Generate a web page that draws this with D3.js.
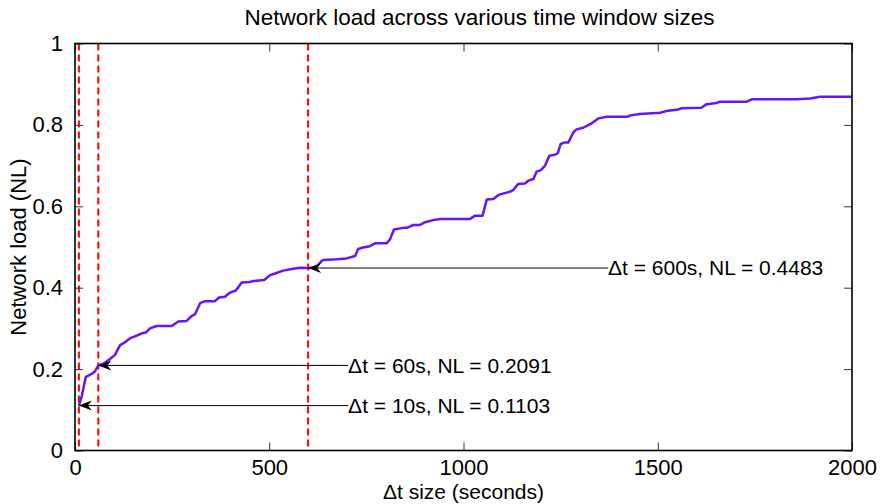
<!DOCTYPE html>
<html>
<head>
<meta charset="utf-8">
<script src="https://cdn.jsdelivr.net/npm/d3@7"></script>
<style>
  html, body { margin: 0; padding: 0; background: #fff; }
  svg { display: block; }
  text { font-family: "Liberation Sans", Arial, Helvetica, sans-serif; fill: #000; }
</style>
</head>
<body>
<svg id="chart" width="880" height="504"></svg>
<script>
// ---- data ----
const windowSizes = [10, 17, 28, 43, 51, 60, 73, 90, 103, 116, 127, 142, 159, 172, 183, 193, 210, 249, 266, 287, 300, 309, 322, 335, 360, 371, 386, 399, 414, 429, 450, 457, 487, 502, 515, 536, 558, 579, 600, 620, 635, 639, 674, 699, 721, 729, 738, 759, 772, 802, 811, 821, 845, 854, 871, 888, 901, 922, 940, 1017, 1030, 1049, 1060, 1077, 1090, 1120, 1128, 1141, 1158, 1167, 1180, 1188, 1199, 1210, 1221, 1236, 1243, 1250, 1261, 1270, 1283, 1291, 1308, 1330, 1347, 1369, 1420, 1433, 1454, 1506, 1527, 1549, 1562, 1612, 1626, 1647, 1660, 1729, 1742, 1858, 1892, 1918, 2000];
const networkLoad = [0.1103, 0.132, 0.181, 0.188, 0.194, 0.2091, 0.213, 0.225, 0.235, 0.259, 0.265, 0.276, 0.282, 0.288, 0.290, 0.300, 0.306, 0.306, 0.317, 0.318, 0.330, 0.335, 0.362, 0.367, 0.367, 0.376, 0.378, 0.388, 0.393, 0.413, 0.414, 0.416, 0.419, 0.431, 0.435, 0.442, 0.446, 0.449, 0.4483, 0.450, 0.466, 0.468, 0.470, 0.472, 0.478, 0.495, 0.498, 0.502, 0.509, 0.509, 0.519, 0.543, 0.547, 0.547, 0.554, 0.554, 0.561, 0.566, 0.569, 0.569, 0.577, 0.577, 0.617, 0.618, 0.628, 0.636, 0.640, 0.655, 0.656, 0.663, 0.667, 0.685, 0.689, 0.700, 0.724, 0.727, 0.731, 0.753, 0.757, 0.757, 0.782, 0.789, 0.793, 0.804, 0.816, 0.820, 0.820, 0.824, 0.827, 0.830, 0.835, 0.837, 0.841, 0.842, 0.851, 0.853, 0.857, 0.857, 0.863, 0.863, 0.865, 0.869, 0.869];

const markerWindows = [10, 60, 600];
const markerLoads = [0.1103, 0.2091, 0.4483];
const markerLabels = ["\u0394t = 10s, NL = 0.1103", "\u0394t = 60s, NL = 0.2091", "\u0394t = 600s, NL = 0.4483"];
const markerTextX = [703, 703, 1372];

const xTicks = [0, 500, 1000, 1500, 2000];
const yTicks = [0, 0.2, 0.4, 0.6, 0.8, 1];
const yTickLabels = ["0", "0.2", "0.4", "0.6", "0.8", "1"];

const titleText = "Network load across various time window sizes";
const xLabelText = "\u0394t size (seconds)";
const yLabelText = "Network load (NL)";

// ---- layout ----
const L = 75, R = 852, T = 43.5, B = 450.5;
const svg = d3.select("#chart");
const x = d3.scaleLinear().domain([0, 2000]).range([L, R]);
const y = d3.scaleLinear().domain([0, 1]).range([B, T]);
const FS = 21;
const tickLen = 8;

// red dashed lines
svg.append("g").selectAll("line").data(markerWindows).join("line")
  .attr("x1", d => x(d)).attr("x2", d => x(d))
  .attr("y1", T).attr("y2", B)
  .attr("stroke", "#ff0000").attr("stroke-width", 2)
  .attr("stroke-dasharray", "7,4");

// curve
const line = d3.line().x((d, i) => x(windowSizes[i])).y(d => y(d));
svg.append("path").datum(networkLoad)
  .attr("d", line)
  .attr("fill", "none")
  .attr("stroke", "#6414ff")
  .attr("stroke-width", 2.5)
  .attr("stroke-linejoin", "round");

// axes (ticks inside, mirrored)
const axB = svg.append("g").attr("transform", `translate(0,${B})`)
  .call(d3.axisBottom(x).tickValues(xTicks).tickSize(-tickLen).tickPadding(9).tickFormat(d3.format("d")));
const axT = svg.append("g").attr("transform", `translate(0,${T})`)
  .call(d3.axisTop(x).tickValues(xTicks).tickSize(-tickLen).tickFormat(""));
const axL = svg.append("g").attr("transform", `translate(${L},0)`)
  .call(d3.axisLeft(y).tickValues(yTicks).tickSize(-tickLen).tickPadding(12).tickFormat((d, i) => yTickLabels[i]));
const axR = svg.append("g").attr("transform", `translate(${R},0)`)
  .call(d3.axisRight(y).tickValues(yTicks).tickSize(-tickLen).tickFormat(""));
[axB, axT, axL, axR].forEach(a => {
  a.select(".domain").remove();
  a.selectAll(".tick line").attr("stroke", "#333").attr("stroke-width", 1);
  a.selectAll("text").style("font-size", "22px").attr("fill", "#000");
});
axB.selectAll("text").attr("dy", "0.71em");

// box
svg.append("rect").attr("x", L).attr("y", T).attr("width", R - L).attr("height", B - T)
  .attr("fill", "none").attr("stroke", "#000").attr("stroke-width", 1.6);

// annotations
const ann = svg.append("g");
markerWindows.forEach((w, i) => {
  const px = x(w), py = y(markerLoads[i]);
  const tx = x(markerTextX[i]);
  ann.append("line").attr("x1", px).attr("x2", tx).attr("y1", py).attr("y2", py)
    .attr("stroke", "#000").attr("stroke-width", 1);
  ann.append("path")
    .attr("d", `M${px},${py} L${px + 13},${py - 5} L${px + 9},${py} L${px + 13},${py + 5} Z`)
    .attr("fill", "#000");
  ann.append("text").attr("x", tx).attr("y", py).attr("dy", "0.35em")
    .style("font-size", FS + "px").text(markerLabels[i]);
});

// title & labels
svg.append("text").attr("x", (L + R) / 2 + 16).attr("y", 25).attr("text-anchor", "middle")
  .style("font-size", "22.5px").text(titleText);
svg.append("text").attr("x", (L + R) / 2).attr("y", 499).attr("text-anchor", "middle")
  .style("font-size", "21px").text(xLabelText);
svg.append("text").attr("transform", `translate(26,${(T + B) / 2}) rotate(-90)`)
  .attr("text-anchor", "middle").style("font-size", "22px").text(yLabelText);
</script>
</body>
</html>
